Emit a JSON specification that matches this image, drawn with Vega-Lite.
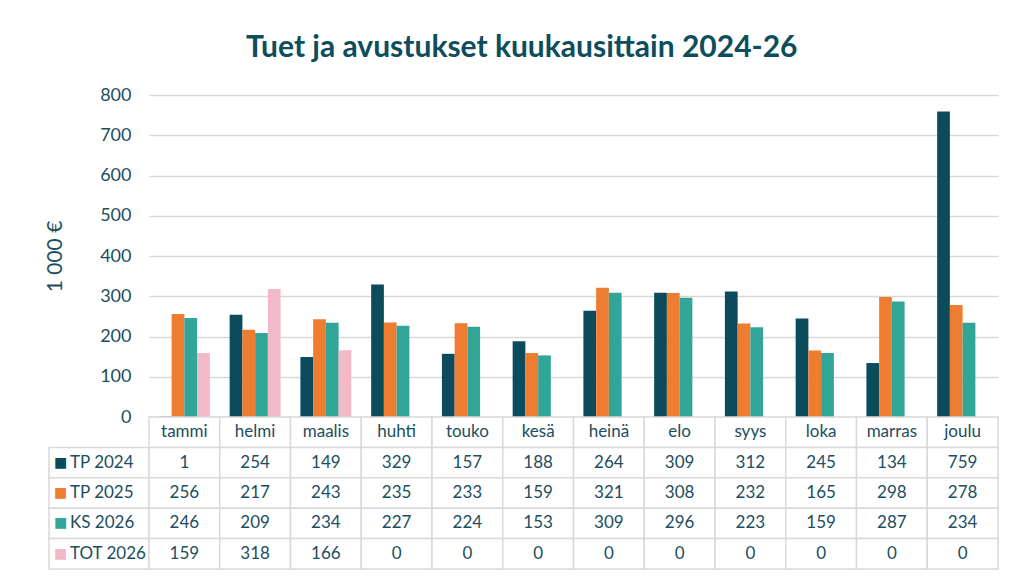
{
  "$schema": "https://vega.github.io/schema/vega-lite/v6.json",
  "background": "white",
  "padding": {"left": 44, "top": 33, "right": 8, "bottom": 0},
  "title": {"text": "Tuet ja avustukset kuukausittain 2024-26", "font": "Lato", "fontSize": 30, "fontWeight": "bold", "color": "#0e4d5c", "anchor": "middle", "offset": 23},
  "config": {
    "view": {"stroke": null},
    "font": "Lato",
    "axis": {"labelFont": "Lato", "titleFont": "Lato", "labelColor": "#1b4e5e", "titleColor": "#1b4e5e"},
    "text": {"font": "Lato", "color": "#1b4e5e"}
  },
  "datasets": {
    "d": [
      {"month": "tammi", "series": "TP 2024", "value": 1},
      {"month": "tammi", "series": "TP 2025", "value": 256},
      {"month": "tammi", "series": "KS 2026", "value": 246},
      {"month": "tammi", "series": "TOT 2026", "value": 159},
      {"month": "helmi", "series": "TP 2024", "value": 254},
      {"month": "helmi", "series": "TP 2025", "value": 217},
      {"month": "helmi", "series": "KS 2026", "value": 209},
      {"month": "helmi", "series": "TOT 2026", "value": 318},
      {"month": "maalis", "series": "TP 2024", "value": 149},
      {"month": "maalis", "series": "TP 2025", "value": 243},
      {"month": "maalis", "series": "KS 2026", "value": 234},
      {"month": "maalis", "series": "TOT 2026", "value": 166},
      {"month": "huhti", "series": "TP 2024", "value": 329},
      {"month": "huhti", "series": "TP 2025", "value": 235},
      {"month": "huhti", "series": "KS 2026", "value": 227},
      {"month": "huhti", "series": "TOT 2026", "value": 0},
      {"month": "touko", "series": "TP 2024", "value": 157},
      {"month": "touko", "series": "TP 2025", "value": 233},
      {"month": "touko", "series": "KS 2026", "value": 224},
      {"month": "touko", "series": "TOT 2026", "value": 0},
      {"month": "kesä", "series": "TP 2024", "value": 188},
      {"month": "kesä", "series": "TP 2025", "value": 159},
      {"month": "kesä", "series": "KS 2026", "value": 153},
      {"month": "kesä", "series": "TOT 2026", "value": 0},
      {"month": "heinä", "series": "TP 2024", "value": 264},
      {"month": "heinä", "series": "TP 2025", "value": 321},
      {"month": "heinä", "series": "KS 2026", "value": 309},
      {"month": "heinä", "series": "TOT 2026", "value": 0},
      {"month": "elo", "series": "TP 2024", "value": 309},
      {"month": "elo", "series": "TP 2025", "value": 308},
      {"month": "elo", "series": "KS 2026", "value": 296},
      {"month": "elo", "series": "TOT 2026", "value": 0},
      {"month": "syys", "series": "TP 2024", "value": 312},
      {"month": "syys", "series": "TP 2025", "value": 232},
      {"month": "syys", "series": "KS 2026", "value": 223},
      {"month": "syys", "series": "TOT 2026", "value": 0},
      {"month": "loka", "series": "TP 2024", "value": 245},
      {"month": "loka", "series": "TP 2025", "value": 165},
      {"month": "loka", "series": "KS 2026", "value": 159},
      {"month": "loka", "series": "TOT 2026", "value": 0},
      {"month": "marras", "series": "TP 2024", "value": 134},
      {"month": "marras", "series": "TP 2025", "value": 298},
      {"month": "marras", "series": "KS 2026", "value": 287},
      {"month": "marras", "series": "TOT 2026", "value": 0},
      {"month": "joulu", "series": "TP 2024", "value": 759},
      {"month": "joulu", "series": "TP 2025", "value": 278},
      {"month": "joulu", "series": "KS 2026", "value": 234},
      {"month": "joulu", "series": "TOT 2026", "value": 0}
    ]
  },
  "columns": 2,
  "spacing": 0,
  "bounds": "flush",
  "resolve": {"scale": {"x": "independent", "y": "independent", "color": "independent", "xOffset": "independent"}},
  "concat": [
    {
      "width": 100, "height": 322,
      "data": {"values": [{"blank": ""}]},
      "mark": {"type": "text"},
      "encoding": {"text": {"field": "blank"}}
    },
    {
      "width": 849, "height": 322,
      "data": {"name": "d"},
      "mark": {"type": "bar"},
      "encoding": {
        "x": {"field": "month", "type": "nominal", "sort": ["tammi","helmi","maalis","huhti","touko","kesä","heinä","elo","syys","loka","marras","joulu"], "scale": {"paddingInner": 0.28, "paddingOuter": 0.14}, "axis": null},
        "xOffset": {"field": "series", "type": "nominal", "sort": ["TP 2024","TP 2025","KS 2026","TOT 2026"], "scale": {"paddingInner": 0, "paddingOuter": 0}},
        "y": {"field": "value", "type": "quantitative", "scale": {"domain": [0, 800]},
              "axis": {"values": [0,100,200,300,400,500,600,700,800], "title": "1 000 €", "titleFontSize": 21, "titleFontWeight": "normal", "titlePadding": 34, "labelFontSize": 18, "labelPadding": 18, "domain": false, "ticks": false, "grid": true, "gridColor": "#d9d9d9", "gridWidth": 1.5}},
        "color": {"field": "series", "type": "nominal", "scale": {"domain": ["TP 2024","TP 2025","KS 2026","TOT 2026"], "range": ["#0b4b5c","#ee7d31","#31a597","#f2b9c8"]}, "legend": null}
      }
    },
    {
      "width": 100, "height": 152,
      "data": {"name": "d"},
      "transform": [{"filter": "datum.month == 'tammi'"}],
      "encoding": {
        "y": {"field": "series", "type": "nominal", "scale": {"domain": ["hdr","TP 2024","TP 2025","KS 2026","TOT 2026"], "paddingInner": 0, "paddingOuter": 0}, "axis": null}
      },
      "layer": [
        {"mark": {"type": "rect", "fill": "white", "stroke": "#d9d9d9", "strokeWidth": 1.5},
         "encoding": {"x": {"datum": "legend", "type": "nominal", "scale": {"paddingInner": 0, "paddingOuter": 0}, "axis": null}}},
        {"mark": {"type": "text", "align": "left", "baseline": "middle", "font": "DejaVu Sans", "fontSize": 14, "dx": 5, "dy": 0},
         "encoding": {"x": {"datum": "legend", "type": "nominal", "bandPosition": 0}, "text": {"value": "■"},
           "color": {"field": "series", "type": "nominal", "scale": {"domain": ["TP 2024","TP 2025","KS 2026","TOT 2026"], "range": ["#0b4b5c","#ee7d31","#31a597","#f2b9c8"]}, "legend": null}}},
        {"mark": {"type": "text", "align": "left", "baseline": "middle", "fontSize": 17, "dx": 21},
         "encoding": {"x": {"datum": "legend", "type": "nominal", "bandPosition": 0}, "text": {"field": "series"}}}
      ]
    },
    {
      "width": 849, "height": 152,
      "data": {"name": "d"},
      "encoding": {
        "x": {"field": "month", "type": "nominal", "sort": ["tammi","helmi","maalis","huhti","touko","kesä","heinä","elo","syys","loka","marras","joulu"], "scale": {"paddingInner": 0, "paddingOuter": 0}, "axis": null}
      },
      "layer": [
        {"transform": [{"filter": "datum.series == 'TP 2024'"}],
         "mark": {"type": "rect", "fill": "white", "stroke": "#d9d9d9", "strokeWidth": 1.5},
         "encoding": {"y": {"datum": "hdr", "type": "nominal", "scale": {"domain": ["hdr","TP 2024","TP 2025","KS 2026","TOT 2026"], "paddingInner": 0, "paddingOuter": 0}, "axis": null}}},
        {"transform": [{"filter": "datum.series == 'TP 2024'"}],
         "mark": {"type": "text", "baseline": "middle", "fontSize": 17},
         "encoding": {"y": {"datum": "hdr", "type": "nominal"}, "text": {"field": "month"}}},
        {"mark": {"type": "rect", "fill": "white", "stroke": "#d9d9d9", "strokeWidth": 1.5},
         "encoding": {"y": {"field": "series", "type": "nominal"}}},
        {"mark": {"type": "text", "baseline": "middle", "fontSize": 17},
         "encoding": {"y": {"field": "series", "type": "nominal"}, "text": {"field": "value", "type": "quantitative"}}}
      ]
    }
  ]
}
